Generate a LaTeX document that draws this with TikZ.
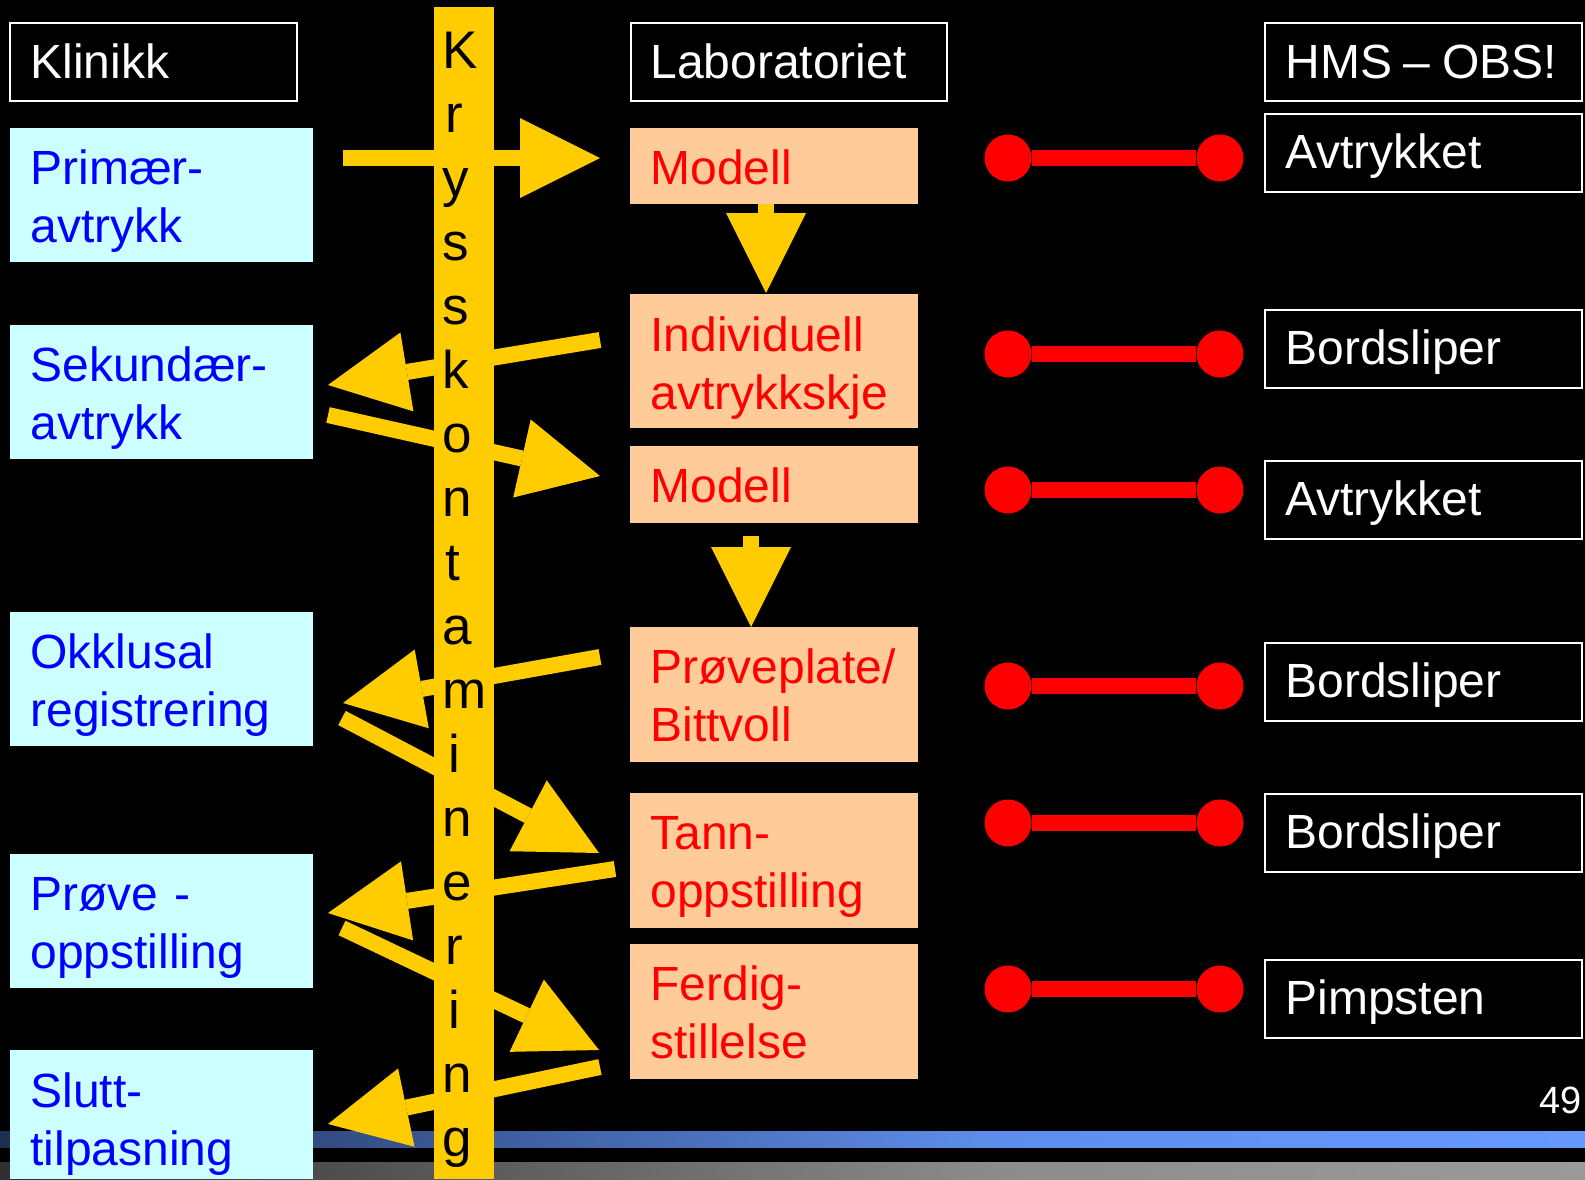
\documentclass[tikz,border=0pt]{standalone}
\usepackage{fontspec}
\setmainfont{Liberation Sans}
\usetikzlibrary{arrows.meta,calc}
\definecolor{kcyan}{HTML}{CCFFFF}
\definecolor{kblue}{HTML}{0000FF}
\definecolor{kpeach}{HTML}{FFCC99}
\definecolor{kred}{HTML}{FF0000}
\definecolor{kyellow}{HTML}{FFCC00}
\definecolor{barblueA}{HTML}{1E2D50}
\definecolor{barblueB}{HTML}{5E8EEC}
\definecolor{barblueC}{HTML}{6699FF}
\definecolor{bargrayA}{HTML}{2F2F2F}
\definecolor{bargrayB}{HTML}{8C8C8C}
\definecolor{bargrayC}{HTML}{9A9A9A}
\begin{document}
\begin{tikzpicture}[x=0.5pt,y=-0.5pt,
  boxbase/.style={anchor=north west, inner sep=0pt, outer sep=0pt},
  cbox/.style={boxbase, fill=kcyan, minimum width=151.5pt, minimum height=67pt},
  pbox/.style={boxbase, fill=kpeach, minimum width=144pt, minimum height=67.5pt},
  obox/.style={boxbase, fill=black, draw=white, line width=1pt, minimum height=39pt},
  txt/.style={anchor=base west, inner sep=0pt, text width=155pt, align=left, font=\fontsize{24}{29}\selectfont},
  ctxt/.style={txt, text=kblue},
  ptxt/.style={txt, text=kred},
  otxt/.style={txt, text=white},
  dot/.style={circle, fill=kred, inner sep=0pt, minimum size=23.5pt},
  dumbbell/.style={draw=kred, line width=8pt},
  yarrow/.style={draw=kyellow, line width=8pt, -{Triangle[length=40pt,width=40pt,line width=0pt,fill=kyellow]}}
]
\useasboundingbox (0,0) rectangle (1585,1179);
\fill[black] (0,0) rectangle (1585,1179);

% bottom bars
\shade[left color=barblueA, right color=barblueB] (0,1131) rectangle (1000.5,1147);
\shade[left color=barblueB, right color=barblueC] (1000,1131) rectangle (1585,1147);
\shade[left color=bargrayA, right color=bargrayB] (0,1162) rectangle (1000.5,1179);
\shade[left color=bargrayB, right color=bargrayC] (1000,1162) rectangle (1585,1179);

% header boxes
\node[obox, minimum width=143.5pt] (klin) at (10,23) {};
\node[obox, minimum width=158pt] (lab) at (631,23) {};
\node[obox, minimum width=158.5pt] (hms) at (1265,23) {};

% clinic boxes
\node[cbox] (prim) at (10,128) {};
\node[cbox] (sek) at (10,325) {};
\node[cbox] (okk) at (10,612) {};
\node[cbox] (prove) at (10,854) {};
\node[cbox, minimum height=64.5pt] (slutt) at (10,1050) {};

% laboratory boxes
\node[pbox, minimum height=38pt] (mod1) at (630,128) {};
\node[pbox, minimum height=67pt] (ind) at (630,294) {};
\node[pbox, minimum height=38.5pt] (mod2) at (630,446) {};
\node[pbox] (prp) at (630,627) {};
\node[pbox] (tann) at (630,793) {};
\node[pbox] (ferd) at (630,944) {};

% HMS boxes
\node[obox, minimum width=158.5pt] (r1) at (1265,114) {};
\node[obox, minimum width=158.5pt] (r2) at (1265,310) {};
\node[obox, minimum width=158.5pt] (r3) at (1265,461) {};
\node[obox, minimum width=158.5pt] (r4) at (1265,643) {};
\node[obox, minimum width=158.5pt] (r5) at (1265,794) {};
\node[obox, minimum width=158.5pt] (r6) at (1265,960) {};

% yellow band
\node[boxbase, fill=kyellow, minimum width=30pt, minimum height=586pt] (band) at (434,7) {};

% yellow arrows
\draw[yarrow] ($(prim.north east)+(30,30)$) -- ($(mod1.north west)+(-30,30)$);
\draw[yarrow] ($(mod1.south)+(-8,0)$) -- ($(ind.north)+(-8,-1)$);
\draw[yarrow] ($(ind.north west)+(-30,46)$) -- ($(sek.north east)+(15,60)$);
\draw[yarrow] ($(sek.north east)+(15,90)$) -- ($(mod2.north west)+(-30,30)$);
\draw[yarrow] ($(mod2.south)+(-23,13)$) -- ($(prp.north)+(-23,0)$);
\draw[yarrow] ($(prp.north west)+(-30,30)$) -- ($(okk.north east)+(30,91)$);
\draw[yarrow] ($(okk.north east)+(29,106)$) -- ($(tann.north west)+(-31,60)$);
\draw[yarrow] ($(tann.north west)+(-15,76)$) -- ($(prove.north east)+(15,59)$);
\draw[yarrow] ($(prove.north east)+(29,74)$) -- ($(ferd.north west)+(-31,106)$);
\draw[yarrow] ($(ferd.north west)+(-30,123)$) -- ($(slutt.north east)+(15,74)$);

% red dumbbells
\foreach \k/\yy in {1/158,2/354,3/490,4/686,5/823,6/989}{
  \node[dot] (da\k) at (1008,\yy) {};
  \node[dot] (db\k) at (1220,\yy) {};
  \draw[dumbbell] (da\k) -- (db\k);
}

% texts
\node[otxt] (klinT) at ($(klin.north west)+(20,55)$) {Klinikk};
\node[otxt] (labT) at ($(lab.north west)+(19,55)$) {Laboratoriet};
\node[otxt] (hmsT) at ($(hms.north west)+(20,55)$) {HMS\hspace{5.9pt}–\hspace{5.9pt}OBS!};

\node[ctxt] (primT) at ($(prim.north west)+(20,56)$) {Primær-\\avtrykk};
\node[ctxt] (sekT) at ($(sek.north west)+(20,56)$) {Sekundær-\\avtrykk};
\node[ctxt] (okkT) at ($(okk.north west)+(20,56)$) {Okklusal\\registrering};
\node[ctxt] (proveT) at ($(prove.north west)+(20,56)$) {Prøve -\\oppstilling};
\node[ctxt] (sluttT) at ($(slutt.north west)+(20,57)$) {Slutt-\\tilpasning};

\node[ptxt] (mod1T) at ($(mod1.north west)+(20,56)$) {Modell};
\node[ptxt] (indT) at ($(ind.north west)+(20,57)$) {Individuell\\avtrykkskje};
\node[ptxt] (mod2T) at ($(mod2.north west)+(20,56)$) {Modell};
\node[ptxt] (prpT) at ($(prp.north west)+(20,56)$) {Prøveplate/\\Bittvoll};
\node[ptxt] (tannT) at ($(tann.north west)+(20,56)$) {Tann-\\oppstilling};
\node[ptxt] (ferdT) at ($(ferd.north west)+(20,56)$) {Ferdig-\\stillelse};

\node[otxt] (r1T) at ($(r1.north west)+(20,54)$) {Avtrykket};
\node[otxt] (r2T) at ($(r2.north west)+(20,54)$) {Bordsliper};
\node[otxt] (r3T) at ($(r3.north west)+(20,54)$) {Avtrykket};
\node[otxt] (r4T) at ($(r4.north west)+(20,54)$) {Bordsliper};
\node[otxt] (r5T) at ($(r5.north west)+(20,54)$) {Bordsliper};
\node[otxt] (r6T) at ($(r6.north west)+(20,54)$) {Pimpsten};

% vertical word on the band
\node[anchor=base west, inner sep=0pt, text width=30pt, align=left, text=black,
      font=\fontsize{26.5}{32}\selectfont] (kryss) at (442,68.3)
  {K\\\hspace*{1.5pt}r\\y\\s\\s\\k\\o\\n\\\hspace*{1.5pt}t\\a\\m\\\hspace*{3pt}i\\n\\e\\\hspace*{1.5pt}r\\\hspace*{3pt}i\\n\\g};

% page number
\node[anchor=base east, inner sep=0pt, text=white, font=\fontsize{19}{22}\selectfont] (pnum) at (1582,1113) {49};
\end{tikzpicture}
\end{document}
